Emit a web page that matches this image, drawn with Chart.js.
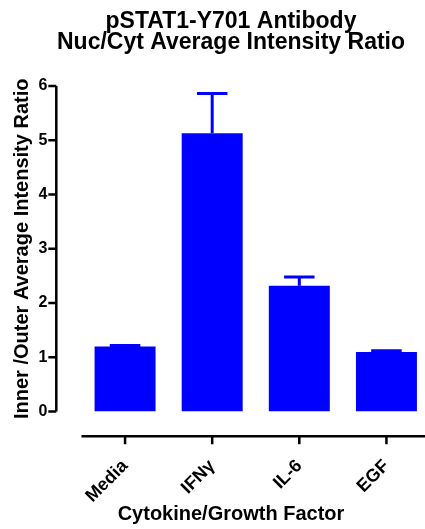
<!DOCTYPE html>
<html>
<head>
<meta charset="utf-8">
<title>pSTAT1-Y701 Antibody</title>
<script src="https://cdn.jsdelivr.net/npm/chart.js@4/dist/chart.umd.min.js"></script>
<style>
  html, body { margin: 0; padding: 0; background: #fff; overflow: hidden; }
  /* x axis runs a few pixels past the right edge of the window */
  #wrap { position: relative; width: 430px; height: 529px; }
</style>
</head>
<body>
<div id="wrap"><canvas id="ratioChart"></canvas></div>
<script>
// nuclear/cytoplasmic ratio per treatment, mean and upper SEM
const categories = ['Media', 'IFNγ', 'IL-6', 'EGF'];
const ratioMeans = [1.20, 5.13, 2.32, 1.10];
const ratioErrors = [0.02, 0.73, 0.16, 0.02];
const yMin = 0;
const yMax = 6;
const yStep = 1;

const chartTitle = ['pSTAT1-Y701 Antibody', 'Nuc/Cyt Average Intensity Ratio'];
const yTitle = 'Inner /Outer Average Intensity Ratio';
const xTitle = 'Cytokine/Growth Factor';

const fontFamily = '"Liberation Sans", Arial, Helvetica, sans-serif';
const barColor = '#0000ff';

// axes sit apart from the bars (prism style), so they are stroked by hand
const prismAxes = {
    id: 'prismAxes',
    afterDatasetsDraw(chart) {
        const { ctx, chartArea } = chart;
        const x = chart.scales.x;
        const y = chart.scales.y;
        ctx.save();

        // upper error bars
        ctx.strokeStyle = barColor;
        ctx.lineWidth = 3;
        chart.getDatasetMeta(0).data.forEach((bar, i) => {
            const top = y.getPixelForValue(ratioMeans[i] + ratioErrors[i]);
            const half = bar.width / 4;
            ctx.beginPath();
            ctx.moveTo(bar.x, bar.y);
            ctx.lineTo(bar.x, top);
            ctx.moveTo(bar.x - half, top);
            ctx.lineTo(bar.x + half, top);
            ctx.stroke();
        });

        ctx.strokeStyle = '#000';
        ctx.lineWidth = 2.5;

        // y axis
        const axisX = chartArea.left - 25.2;
        ctx.beginPath();
        ctx.moveTo(axisX, y.getPixelForValue(yMin));
        ctx.lineTo(axisX, y.getPixelForValue(yMax));
        y.ticks.forEach(t => {
            const py = y.getPixelForValue(t.value);
            ctx.moveTo(axisX - 8, py);
            ctx.lineTo(axisX, py);
        });
        ctx.stroke();

        // x axis
        const axisY = chartArea.bottom + 24.7;
        ctx.beginPath();
        ctx.moveTo(chartArea.left, axisY);
        ctx.lineTo(chartArea.right, axisY);
        categories.forEach((c, i) => {
            const px = x.getPixelForValue(i);
            ctx.moveTo(px, axisY);
            ctx.lineTo(px, axisY + 8);
        });
        ctx.stroke();
        ctx.restore();
    }
};

new Chart(document.getElementById('ratioChart'), {
    type: 'bar',
    data: {
        labels: categories,
        datasets: [{
            data: ratioMeans,
            backgroundColor: barColor,
            borderWidth: 0,
            barPercentage: 0.7,
            categoryPercentage: 1.0
        }]
    },
    options: {
        responsive: true,
        maintainAspectRatio: false,
        animation: false,
        layout: {
            padding: { left: 32, right: 0, top: 0, bottom: 0 }
        },
        plugins: {
            legend: { display: false },
            tooltip: { enabled: false },
            title: {
                display: true,
                text: chartTitle,
                color: '#000',
                font: { family: fontFamily, size: 23, weight: 'bold', lineHeight: 0.93 },
                padding: { top: 10.6, bottom: 32.6 }
            },
            subtitle: {
                display: true,
                position: 'bottom',
                text: xTitle,
                color: '#000',
                font: { family: fontFamily, size: 20, weight: 'bold', lineHeight: 1 },
                padding: { top: 0, bottom: 5 }
            }
        },
        scales: {
            x: {
                grid: { display: false, drawTicks: false },
                border: { display: false },
                ticks: {
                    autoSkip: false,
                    minRotation: 45,
                    maxRotation: 45,
                    padding: 41.5,
                    color: '#000',
                    font: { family: fontFamily, size: 18, weight: 'bold', lineHeight: 1.6 }
                },
                afterFit(scale) {
                    scale.height = 92.4;
                    scale.paddingLeft = 0;
                    scale.paddingRight = 0;
                }
            },
            y: {
                min: yMin,
                max: yMax,
                grid: { display: false, drawTicks: false },
                border: { display: false },
                ticks: {
                    stepSize: yStep,
                    padding: 34.2,
                    color: '#000',
                    font: { family: fontFamily, size: 16, weight: 'bold' }
                },
                title: {
                    display: true,
                    text: yTitle,
                    color: '#000',
                    font: { family: fontFamily, size: 20, weight: 'bold' },
                    padding: { top: -21.5, bottom: 0 }
                },
                afterFit(scale) { scale.width = 49.5; }
            }
        }
    },
    plugins: [prismAxes]
});
</script>
</body>
</html>
